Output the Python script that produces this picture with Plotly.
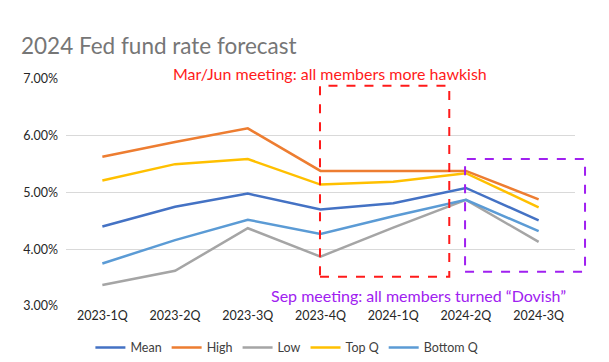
import plotly.graph_objects as go

categories = ["2023-1Q", "2023-2Q", "2023-3Q", "2023-4Q", "2024-1Q", "2024-2Q", "2024-3Q"]
mean = [4.40, 4.75, 4.98, 4.70, 4.81, 5.08, 4.51]
high = [5.63, 5.89, 6.13, 5.38, 5.38, 5.38, 4.88]
low = [3.37, 3.62, 4.37, 3.87, 4.38, 4.87, 4.13]
top_q = [5.21, 5.50, 5.59, 5.14, 5.19, 5.34, 4.74]
bottom_q = [3.75, 4.16, 4.52, 4.27, 4.58, 4.87, 4.32]
y_ticks = [3, 4, 5, 6, 7]
y_tick_labels = ["3.00%", "4.00%", "5.00%", "6.00%", "7.00%"]

series = [
    ("Mean", mean, "#4472C4"),
    ("High", high, "#ED7D31"),
    ("Low", low, "#A5A5A5"),
    ("Top Q", top_q, "#FFC000"),
    ("Bottom Q", bottom_q, "#5B9BD5"),
]

FONT = "Lato, Open Sans, sans-serif"

fig = go.Figure()
for name, vals, color in series:
    fig.add_trace(go.Scatter(x=categories, y=vals, name=name, mode="lines",
                             line=dict(color=color, width=2.5)))

# page body has an 8px default margin, so the figure is offset by (8, 8)
fig.update_layout(
    width=609, height=362,
    margin=dict(l=58, r=42, t=71, b=64, autoexpand=False),
    paper_bgcolor="white", plot_bgcolor="white",
    font=dict(family=FONT, size=13, color="#262626"),
    showlegend=True,
    legend=dict(orientation="h", x=0.434, xanchor="center", y=-0.185, yanchor="middle",
                font=dict(size=12.5, color="#404040"), itemwidth=30, tracegroupgap=0),
    xaxis=dict(showgrid=False, showline=False, ticks="", automargin=False,
               tickfont=dict(size=12.5, color="#262626"), range=[-0.5, 6.5]),
    yaxis=dict(range=[3, 7], tickvals=y_ticks, ticktext=y_tick_labels, automargin=False,
               showgrid=True, gridcolor="#D9D9D9", gridwidth=1.2, zeroline=False,
               showline=False, ticks="", ticklabelstandoff=7,
               tickfont=dict(size=12.5, color="#262626")),
)

fig.add_annotation(text="2024 Fed fund rate forecast", xref="paper", yref="paper",
                   x=-47/509, y=(306-46)/227, xanchor="left", yanchor="middle",
                   showarrow=False, font=dict(size=22.5, color="#767676", family=FONT))
fig.add_annotation(text="Mar/Jun meeting: all members more hawkish", xref="paper", yref="paper",
                   x=0.519, y=1.026, xanchor="center", yanchor="middle",
                   showarrow=False, font=dict(size=16, color="#FF1A1A", family=FONT))
fig.add_annotation(text="Sep meeting: all members turned \u201cDovish\u201d", xref="paper", yref="paper",
                   x=0.6916, y=0.048, xanchor="center", yanchor="middle",
                   showarrow=False, font=dict(size=16, color="#A020F0", family=FONT))

fig.add_shape(type="rect", xref="paper", yref="paper", x0=0.499, x1=0.753, y0=0.129, y1=0.970,
              line=dict(color="#FF1A1A", width=2, dash="dash"))
fig.add_shape(type="rect", xref="paper", yref="paper", x0=0.784, x1=1.0197, y0=0.151, y1=0.648,
              line=dict(color="#A020F0", width=2, dash="dash"))

fig.write_html("out.html")
